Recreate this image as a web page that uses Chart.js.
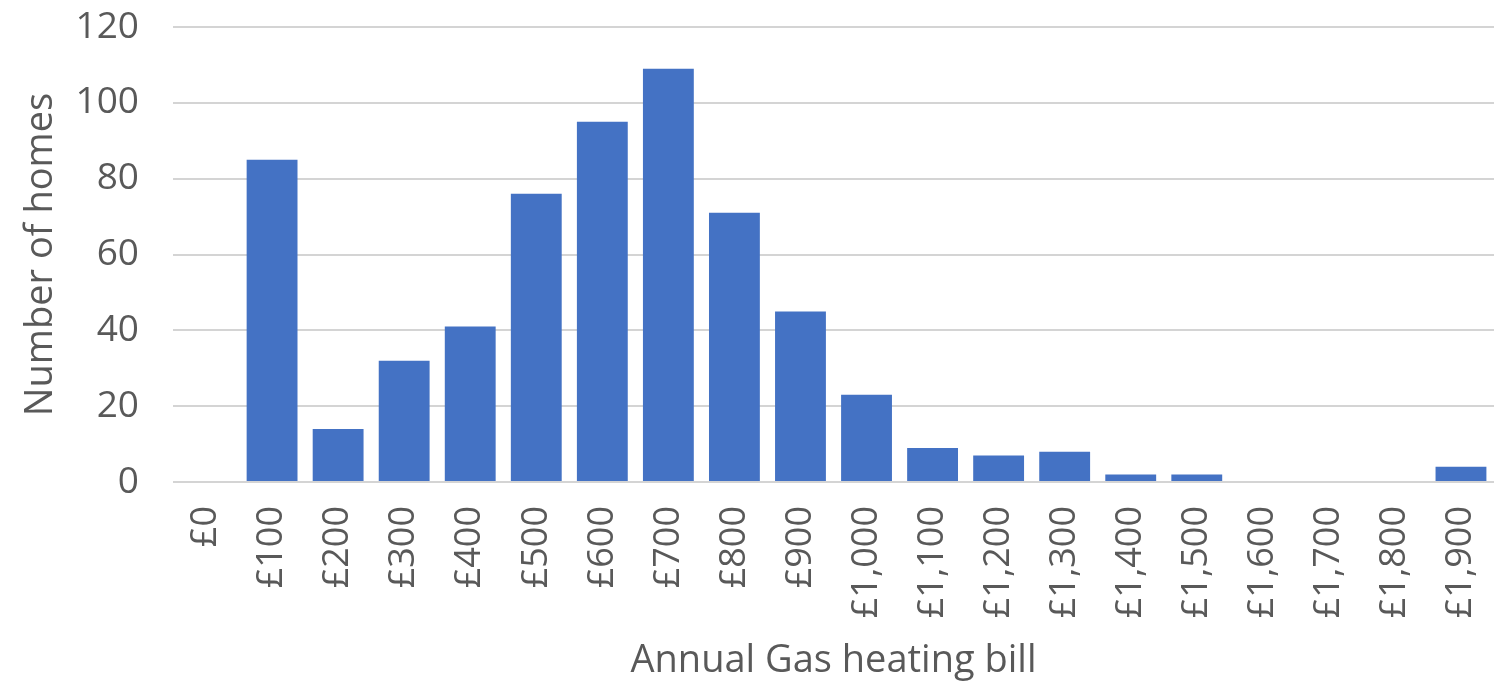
<!DOCTYPE html>
<html>
<head>
<meta charset="utf-8">
<script src="https://cdn.jsdelivr.net/npm/chart.js@4/dist/chart.umd.min.js"></script>
<style>
  html, body { margin: 0; padding: 0; background: #fff; }
  #wrap { width: 1494px; height: 684px; }
</style>
</head>
<body>
<div id="wrap"><canvas id="myChart"></canvas></div>
<script>
const categories = ['£0', '£100', '£200', '£300', '£400', '£500', '£600', '£700', '£800', '£900',
  '£1,000', '£1,100', '£1,200', '£1,300', '£1,400', '£1,500', '£1,600', '£1,700', '£1,800', '£1,900'];
const homes = [0, 85, 14, 32, 41, 76, 95, 109, 71, 45, 23, 9, 7, 8, 2, 2, 0, 0, 0, 4];
const yTicks = [0, 20, 40, 60, 80, 100, 120];

const textColor = '#595959';
const fontFamily = '"Open Sans", "Liberation Sans", sans-serif';

function createChart() {
  const ctx = document.getElementById('myChart').getContext('2d');

  new Chart(ctx, {
    type: 'bar',
    data: {
      labels: categories,
      datasets: [{
        label: 'Number of homes',
        data: homes,
        backgroundColor: '#4472C4',
        borderWidth: 0,
        categoryPercentage: 1,
        barPercentage: 0.77
      }]
    },
    options: {
      responsive: true,
      maintainAspectRatio: false,
      animation: false,
      layout: { padding: { top: 27, right: 0, left: 0, bottom: 0 } },
      plugins: {
        legend: { display: false },
        tooltip: { enabled: false }
      },
      scales: {
        x: {
          grid: { display: false },
          border: { display: false },
          ticks: {
            color: textColor,
            font: { family: fontFamily, size: 36 },
            minRotation: 90,
            maxRotation: 90,
            padding: 16,
            autoSkip: false
          },
          title: {
            display: true,
            text: 'Annual Gas heating bill',
            color: textColor,
            font: { family: fontFamily, size: 38 },
            padding: { top: 0, bottom: 0 }
          },
          afterFit: function (scale) {
            scale.height = 202;
            scale.paddingLeft = 0;
            scale.paddingRight = 0;
          }
        },
        y: {
          min: 0,
          max: 120,
          afterBuildTicks: function (scale) {
            scale.ticks = yTicks.map(v => ({ value: v }));
          },
          grid: { color: '#d4d4d4', lineWidth: 2, drawTicks: false },
          border: { display: false },
          ticks: {
            color: textColor,
            font: { family: fontFamily, size: 37 },
            padding: 34
          },
          title: {
            display: true,
            text: 'Number of homes',
            color: textColor,
            font: { family: fontFamily, size: 38 },
            padding: { top: 18, bottom: 0 }
          },
          afterFit: function (scale) {
            scale.width = 173;
            scale.paddingTop = 0;
            scale.paddingBottom = 0;
          }
        }
      }
    }
  });
}

window.onload = createChart;
</script>
</body>
</html>
